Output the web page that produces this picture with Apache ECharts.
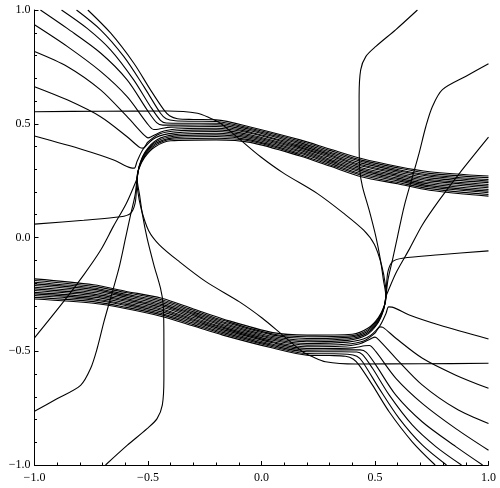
<!DOCTYPE html>
<html>
<head>
<meta charset="utf-8">
<script src="https://cdn.jsdelivr.net/npm/echarts@6/dist/echarts.min.js"></script>
<style>
  html, body { margin: 0; padding: 0; background: #fff; }
  #chart { width: 500px; height: 488px; }
</style>
</head>
<body>
<div id="chart"></div>
<script>
// band stations (x) and the y of each of the 13 lines in the band at those stations
const upperStationX = [-0.2, -0.05, 0.17, 0.30, 0.44, 0.60, 0.74, 1.0];
const upperSlotY = [
  [0.517, 0.486, 0.429, 0.389, 0.347, 0.312, 0.289, 0.270],
  [0.510, 0.480, 0.423, 0.383, 0.340, 0.306, 0.282, 0.263],
  [0.502, 0.475, 0.417, 0.376, 0.334, 0.299, 0.275, 0.255],
  [0.495, 0.469, 0.411, 0.370, 0.327, 0.293, 0.269, 0.248],
  [0.488, 0.463, 0.405, 0.364, 0.320, 0.287, 0.262, 0.241],
  [0.480, 0.458, 0.399, 0.358, 0.314, 0.280, 0.255, 0.233],
  [0.473, 0.452, 0.394, 0.352, 0.307, 0.274, 0.249, 0.226],
  [0.466, 0.446, 0.388, 0.345, 0.300, 0.268, 0.242, 0.219],
  [0.458, 0.441, 0.382, 0.339, 0.294, 0.261, 0.235, 0.211],
  [0.451, 0.435, 0.376, 0.333, 0.287, 0.255, 0.228, 0.204],
  [0.444, 0.429, 0.370, 0.327, 0.280, 0.249, 0.222, 0.197],
  [0.436, 0.424, 0.364, 0.320, 0.274, 0.242, 0.215, 0.189],
  [0.429, 0.418, 0.358, 0.314, 0.267, 0.236, 0.208, 0.182]
];
const lowerStationX = [0.2, 0.05, -0.17, -0.30, -0.44, -0.60, -0.74, -1.0];
const lowerSlotY = [
  [-0.517, -0.486, -0.429, -0.389, -0.347, -0.312, -0.289, -0.270],
  [-0.510, -0.480, -0.423, -0.383, -0.340, -0.306, -0.282, -0.263],
  [-0.502, -0.475, -0.417, -0.376, -0.334, -0.299, -0.275, -0.255],
  [-0.495, -0.469, -0.411, -0.370, -0.327, -0.293, -0.269, -0.248],
  [-0.488, -0.463, -0.405, -0.364, -0.320, -0.287, -0.262, -0.241],
  [-0.480, -0.458, -0.399, -0.358, -0.314, -0.280, -0.255, -0.233],
  [-0.473, -0.452, -0.394, -0.352, -0.307, -0.274, -0.249, -0.226],
  [-0.466, -0.446, -0.388, -0.345, -0.300, -0.268, -0.242, -0.219],
  [-0.458, -0.441, -0.382, -0.339, -0.294, -0.261, -0.235, -0.211],
  [-0.451, -0.435, -0.376, -0.333, -0.287, -0.255, -0.228, -0.204],
  [-0.444, -0.429, -0.370, -0.327, -0.280, -0.249, -0.222, -0.197],
  [-0.436, -0.424, -0.364, -0.320, -0.274, -0.242, -0.215, -0.189],
  [-0.429, -0.418, -0.358, -0.314, -0.267, -0.236, -0.208, -0.182]
];

// upper half: paths before they join the upper band
const headT4 = [[-0.765,1.0],[-0.665,0.899],[-0.563,0.767],[-0.489,0.649],[-0.430,0.561],[-0.405,0.535],[-0.37,0.522],[-0.3,0.519]];
const headT3 = [[-0.815,1.0],[-0.709,0.913],[-0.607,0.796],[-0.518,0.663],[-0.445,0.546],[-0.420,0.522],[-0.38,0.513],[-0.3,0.511]];
const headT2 = [[-0.881,1.0],[-0.768,0.919],[-0.665,0.825],[-0.563,0.693],[-0.489,0.575],[-0.445,0.515],[-0.42,0.503],[-0.35,0.502]];
const headT1 = [[-0.974,1.0],[-0.856,0.919],[-0.709,0.811],[-0.592,0.693],[-0.504,0.561],[-0.462,0.505],[-0.435,0.494],[-0.35,0.494]];
const headL4 = [[-1.0,0.935],[-0.856,0.840],[-0.709,0.730],[-0.592,0.619],[-0.504,0.502],[-0.475,0.475],[-0.455,0.476],[-0.40,0.485]];
const headL3 = [[-1.0,0.818],[-0.856,0.752],[-0.709,0.649],[-0.592,0.531],[-0.518,0.451],[-0.500,0.438],[-0.48,0.446],[-0.43,0.468],[-0.35,0.478]];
const headL2 = [[-1.0,0.663],[-0.856,0.605],[-0.709,0.531],[-0.592,0.443],[-0.535,0.395],[-0.522,0.393],[-0.50,0.420],[-0.45,0.455],[-0.37,0.469]];
const headL1 = [[-1.0,0.446],[-0.783,0.385],[-0.651,0.341],[-0.575,0.306],[-0.560,0.305],[-0.548,0.335],[-0.52,0.39],[-0.465,0.44],[-0.38,0.46]];
const headNa = [[-1.0,0.059],[-0.783,0.076],[-0.621,0.091],[-0.577,0.106],[-0.557,0.150],[-0.550,0.223],[-0.548,0.261],[-0.537,0.320],[-0.51,0.38],[-0.46,0.43],[-0.38,0.452]];
const headNb = [[-1.0,-0.441],[-0.872,-0.282],[-0.783,-0.164],[-0.709,-0.056],[-0.652,0.050],[-0.595,0.151],[-0.558,0.235],[-0.548,0.261],[-0.538,0.315],[-0.512,0.373],[-0.463,0.422],[-0.385,0.445]];
const headNc = [[-1.0,-0.764],[-0.901,-0.709],[-0.797,-0.650],[-0.753,-0.576],[-0.724,-0.488],[-0.694,-0.370],[-0.665,-0.267],[-0.628,-0.135],[-0.599,-0.003],[-0.577,0.098],[-0.557,0.186],[-0.548,0.261],[-0.539,0.31],[-0.513,0.366],[-0.465,0.414],[-0.39,0.438]];
const headNd = [[-0.687,-1.0],[-0.592,-0.914],[-0.504,-0.840],[-0.460,-0.796],[-0.437,-0.737],[-0.430,-0.620],[-0.430,-0.444],[-0.433,-0.297],[-0.445,-0.223],[-0.474,-0.121],[-0.504,-0.003],[-0.524,0.098],[-0.537,0.186],[-0.548,0.261],[-0.540,0.305],[-0.514,0.359],[-0.468,0.406],[-0.395,0.432]];
const headNe = [[1.0,-0.553],[0.709,-0.555],[0.414,-0.556],[0.282,-0.546],[0.225,-0.524],[0.181,-0.502],[0.093,-0.429],[0.004,-0.355],[-0.097,-0.283],[-0.245,-0.194],[-0.361,-0.107],[-0.45,-0.032],[-0.497,0.030],[-0.529,0.122],[-0.546,0.21],[-0.548,0.261],[-0.541,0.30],[-0.515,0.352],[-0.47,0.398],[-0.40,0.425]];

// lower half: paths before they join the lower band
const headT4b = [[0.765,-1.0],[0.665,-0.899],[0.563,-0.767],[0.489,-0.649],[0.430,-0.561],[0.405,-0.535],[0.37,-0.522],[0.3,-0.519]];
const headT3b = [[0.815,-1.0],[0.709,-0.913],[0.607,-0.796],[0.518,-0.663],[0.445,-0.546],[0.420,-0.522],[0.38,-0.513],[0.3,-0.511]];
const headT2b = [[0.881,-1.0],[0.768,-0.919],[0.665,-0.825],[0.563,-0.693],[0.489,-0.575],[0.445,-0.515],[0.42,-0.503],[0.35,-0.502]];
const headT1b = [[0.974,-1.0],[0.856,-0.919],[0.709,-0.811],[0.592,-0.693],[0.504,-0.561],[0.462,-0.505],[0.435,-0.494],[0.35,-0.494]];
const headL4b = [[1.0,-0.935],[0.856,-0.840],[0.709,-0.730],[0.592,-0.619],[0.504,-0.502],[0.475,-0.475],[0.455,-0.476],[0.40,-0.485]];
const headL3b = [[1.0,-0.818],[0.856,-0.752],[0.709,-0.649],[0.592,-0.531],[0.518,-0.451],[0.500,-0.438],[0.48,-0.446],[0.43,-0.468],[0.35,-0.478]];
const headL2b = [[1.0,-0.663],[0.856,-0.605],[0.709,-0.531],[0.592,-0.443],[0.535,-0.395],[0.522,-0.393],[0.50,-0.420],[0.45,-0.455],[0.37,-0.469]];
const headL1b = [[1.0,-0.446],[0.783,-0.385],[0.651,-0.341],[0.575,-0.306],[0.560,-0.305],[0.548,-0.335],[0.52,-0.39],[0.465,-0.44],[0.38,-0.46]];
const headNab = [[1.0,-0.059],[0.783,-0.076],[0.621,-0.091],[0.577,-0.106],[0.557,-0.150],[0.550,-0.223],[0.548,-0.261],[0.537,-0.320],[0.51,-0.38],[0.46,-0.43],[0.38,-0.452]];
const headNbb = [[1.0,0.441],[0.872,0.282],[0.783,0.164],[0.709,0.056],[0.652,-0.050],[0.595,-0.151],[0.558,-0.235],[0.548,-0.261],[0.538,-0.315],[0.512,-0.373],[0.463,-0.422],[0.385,-0.445]];
const headNcb = [[1.0,0.764],[0.901,0.709],[0.797,0.650],[0.753,0.576],[0.724,0.488],[0.694,0.370],[0.665,0.267],[0.628,0.135],[0.599,0.003],[0.577,-0.098],[0.557,-0.186],[0.548,-0.261],[0.539,-0.31],[0.513,-0.366],[0.465,-0.414],[0.39,-0.438]];
const headNdb = [[0.687,1.0],[0.592,0.914],[0.504,0.840],[0.460,0.796],[0.437,0.737],[0.430,0.620],[0.430,0.444],[0.433,0.297],[0.445,0.223],[0.474,0.121],[0.504,0.003],[0.524,-0.098],[0.537,-0.186],[0.548,-0.261],[0.540,-0.305],[0.514,-0.359],[0.468,-0.406],[0.395,-0.432]];
const headH = [[-1.0,0.553],[-0.709,0.555],[-0.414,0.556],[-0.282,0.546],[-0.225,0.524],[-0.181,0.502],[-0.093,0.429],[-0.004,0.355],[0.097,0.283],[0.245,0.194],[0.361,0.107],[0.45,0.032],[0.497,-0.030],[0.529,-0.122],[0.546,-0.21],[0.548,-0.261],[0.541,-0.30],[0.515,-0.352],[0.47,-0.398],[0.40,-0.425]];

const upperHeads = [headT4, headT3, headT2, headT1, headL4, headL3, headL2, headL1, headNa, headNb, headNc, headNd, headNe];
const lowerHeads = [headT4b, headT3b, headT2b, headT1b, headL4b, headL3b, headL2b, headL1b, headNab, headNbb, headNcb, headNdb, headH];

function bandLine(head, slot, xs, table) {
  return head.concat(xs.map((x, i) => [x, table[slot][i]]));
}

function fmt(v) {
  return (v < 0 ? "\u2212" : "") + Math.abs(v).toFixed(1);
}

let series = [];
upperHeads.forEach((h, s) => {
  series.push({ type: "line", data: bandLine(h, s, upperStationX, upperSlotY) });
});
lowerHeads.forEach((h, s) => {
  series.push({ type: "line", data: bandLine(h, s, lowerStationX, lowerSlotY) });
});
series = series.map(item => {
  return Object.assign(item, {
    smooth: 0.3,
    symbol: "none",
    silent: true,
    lineStyle: { color: "#000", width: 1.1 }
  });
});

let axisCommon = {
  type: "value",
  min: -1,
  max: 1,
  interval: 0.5,
  splitLine: { show: false },
  axisLine: { onZero: false, lineStyle: { color: "#000", width: 1 } },
  axisTick: { inside: true, length: 4, lineStyle: { color: "#000" } },
  minorTick: { show: true, splitNumber: 5, length: 2.5, lineStyle: { color: "#000" } },
  minorSplitLine: { show: false },
  axisLabel: {
    formatter: fmt,
    color: "#000",
    fontFamily: "Liberation Serif",
    fontSize: 12
  }
};

let myChart = echarts.init(document.getElementById("chart"));
myChart.setOption({
  animation: false,
  grid: { left: 34.5, right: 11.5, top: 10, bottom: 23, containLabel: false },
  xAxis: Object.assign({}, axisCommon, {
    axisLabel: Object.assign({}, axisCommon.axisLabel, { margin: 7 })
  }),
  yAxis: Object.assign({}, axisCommon, {
    axisLabel: Object.assign({}, axisCommon.axisLabel, { margin: 4 })
  }),
  series: series
});
</script>
</body>
</html>
